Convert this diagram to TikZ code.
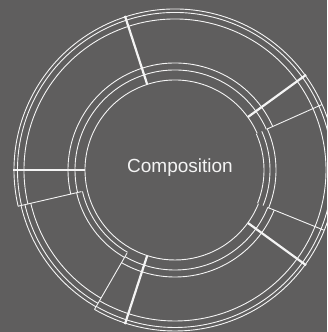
\documentclass[tikz,border=0pt]{standalone}
\usepackage{fontspec}
\setmainfont{Liberation Sans}
\definecolor{bg}{HTML}{5F5E5E}
\definecolor{ln}{HTML}{F4F4F4}
\tikzset{
  thinln/.style={draw=ln, line width=0.9pt},
  thickln/.style={draw=ln, line width=2.2pt},
}
\newcommand{\ringarc}[3]{\draw[thinln] (C) ++(#2:#1) arc[start angle=#2, end angle=#3, radius=#1];}
\begin{document}
\begin{tikzpicture}[x=1pt,y=1pt]
\fill[bg] (0,0) rectangle (327,332);
\useasboundingbox (0,0) rectangle (327,332);
\coordinate (C) at (175,162);
\clip (0,0) rectangle (327,332);
% base sectors
\foreach \r in {90,100,107,151,157.5,161}{
  \ringarc{\r}{24}{193}
  \ringarc{\r}{240}{338}
}
% shifted sector A (right)
\foreach \r in {89,95,101,151,157.5,161}{
  \ringarc{\r}{-22}{24}
}
% shifted sector B (lower left)
\foreach \r in {90,95,101,148,154,158}{
  \ringarc{\r}{193}{240}
}
% thin boundaries
\draw[thinln] (C) ++(24:101) -- ++(24:60);
\draw[thinln] (C) ++(-22:100) -- ++(-22:61);
\draw[thinln] (C) ++(193:96) -- ++(193:65);
\draw[thinln] (C) ++(240:96) -- ++(240:65);
% thick dividers
\foreach \a in {180,108,36,-36,-108}{
  \draw[thickln] (C) ++(\a:90) -- ++(\a:72);
}
\node[text=ln, font=\fontsize{19}{22}\selectfont] (title) at (180,164) {Composition};
\end{tikzpicture}
\end{document}
